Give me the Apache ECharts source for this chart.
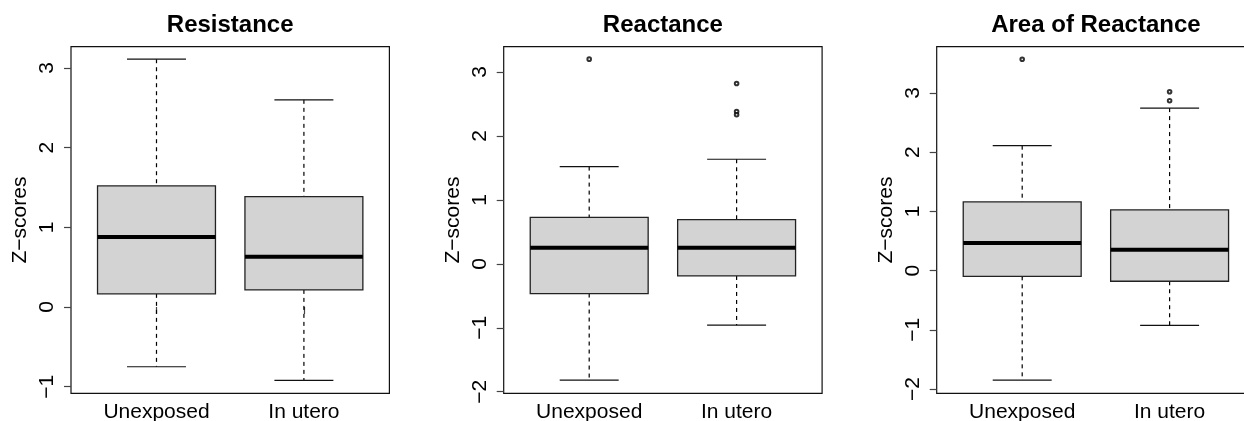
<!DOCTYPE html>
<html>
<head>
<meta charset="utf-8">
<script src="https://cdn.jsdelivr.net/npm/echarts@6/dist/echarts.min.js"></script>
<style>
html,body{margin:0;padding:0;background:#fff;}
#chart{width:1244px;height:421px;}
</style>
</head>
<body>
<div id="chart"></div>
<script>
// ---- data ----
const categories = ['Unexposed', 'In utero'];
const panelTitles = ['Resistance', 'Reactance', 'Area of Reactance'];
const yAxisTitle = 'Z\u2212scores';
// each row: [lower whisker, Q1, median, Q3, upper whisker]
const resistanceStats = [[-0.75, 0.165, 0.88, 1.52, 3.11], [-0.92, 0.215, 0.63, 1.385, 2.60]];
const resistanceOutliers = [];
const reactanceStats = [[-1.82, -0.465, 0.25, 0.725, 1.52], [-0.96, -0.19, 0.25, 0.69, 1.635]];
const reactanceOutliers = [[1, 3.20], [2, 2.82], [2, 2.38], [2, 2.33]];
const areaStats = [[-1.85, -0.097, 0.466, 1.16, 2.11], [-0.925, -0.18, 0.353, 1.024, 2.745]];
const areaOutliers = [[1, 3.57], [2, 3.02], [2, 2.87]];
const resistanceTicks = [-1, 0, 1, 2, 3];
const reactanceTicks = [-2, -1, 0, 1, 2, 3];
const areaTicks = [-2, -1, 0, 1, 2, 3];
const resistanceRange = [-1.083, 3.267];
const reactanceRange = [-2.025, 3.395];
const areaRange = [-2.073, 3.782];
const xPositions = [1, 2];

// ---- chart ----
const panels = [
  {stats: resistanceStats, outliers: resistanceOutliers, ticks: resistanceTicks, range: resistanceRange},
  {stats: reactanceStats, outliers: reactanceOutliers, ticks: reactanceTicks, range: reactanceRange},
  {stats: areaStats, outliers: areaOutliers, ticks: areaTicks, range: areaRange}
];
const gridLefts = [71, 503.7, 936.7];
const gridTop = 46.7, gridW = 318.4, gridH = 346.6;
const FONT = '"Liberation Sans", Arial, Helvetica, sans-serif';
const BOXW = 0.4, CAPW = 0.2;

function fmt(v) { return String(v).replace('-', '\u2212'); }

function renderBox(params, api) {
  const x = api.value(0);
  const lo = api.value(1), q1 = api.value(2), md = api.value(3), q3 = api.value(4), hi = api.value(5);
  const c = (a, b) => api.coord([a, b]);
  const pHi = c(x, hi), pQ3 = c(x, q3), pQ1 = c(x, q1), pLo = c(x, lo);
  const capL = c(x - CAPW, hi), capR = c(x + CAPW, hi);
  const capL2 = c(x - CAPW, lo), capR2 = c(x + CAPW, lo);
  const bTL = c(x - BOXW, q3), bBR = c(x + BOXW, q1);
  const mL = c(x - BOXW, md), mR = c(x + BOXW, md);
  const dashStyle = {stroke: '#000', lineWidth: 1.2, lineDash: [4, 4]};
  const solid = {stroke: '#111', lineWidth: 1.2};
  return {
    type: 'group',
    children: [
      {type: 'line', shape: {x1: pHi[0], y1: pHi[1], x2: pQ3[0], y2: pQ3[1]}, style: dashStyle},
      {type: 'line', shape: {x1: pQ1[0], y1: pQ1[1], x2: pLo[0], y2: pLo[1]}, style: dashStyle},
      {type: 'line', shape: {x1: capL[0], y1: capL[1], x2: capR[0], y2: capR[1]}, style: solid},
      {type: 'line', shape: {x1: capL2[0], y1: capL2[1], x2: capR2[0], y2: capR2[1]}, style: solid},
      {type: 'rect', shape: {x: bTL[0], y: bTL[1], width: bBR[0] - bTL[0], height: bBR[1] - bTL[1]},
       style: {fill: '#d3d3d3', stroke: '#222', lineWidth: 1.3}},
      {type: 'line', shape: {x1: mL[0], y1: mL[1], x2: mR[0], y2: mR[1]}, style: {stroke: '#000', lineWidth: 4}}
    ]
  };
}

const option = {
  animation: false,
  backgroundColor: '#fff',
  title: panels.map((p, i) => ({
    text: panelTitles[i],
    left: gridLefts[i] + gridW / 2,
    top: 13,
    textAlign: 'center',
    padding: 0,
    textStyle: {fontFamily: FONT, fontSize: 24, fontWeight: 'bold', color: '#000'}
  })),
  grid: panels.map((p, i) => ({
    left: gridLefts[i], top: gridTop, width: gridW, height: gridH,
    outerBoundsMode: 'none', containLabel: false,
    show: true, borderColor: '#111', borderWidth: 1.2, backgroundColor: 'transparent'
  })),
  xAxis: panels.map((p, i) => ({
    type: 'value', gridIndex: i, min: 0.42, max: 2.58,
    axisLine: {show: false},
    splitLine: {show: false},
    axisTick: {show: true, inside: false, length: 7, customValues: xPositions, lineStyle: {color: '#444', width: 1.2}},
    axisLabel: {show: true, margin: 8, customValues: xPositions, fontFamily: FONT, fontSize: 21, color: '#000',
      hideOverlap: false, formatter: v => categories[Math.round(v) - 1]}
  })),
  yAxis: panels.map((p, i) => ({
    type: 'value', gridIndex: i, min: p.range[0], max: p.range[1],
    name: yAxisTitle, nameLocation: 'middle', nameGap: 40,
    nameTextStyle: {fontFamily: FONT, fontSize: 21, color: '#000'},
    axisLine: {show: false},
    splitLine: {show: false},
    axisTick: {show: true, inside: false, length: 7, customValues: p.ticks, lineStyle: {color: '#444', width: 1.2}},
    axisLabel: {show: true, rotate: 90, margin: 13, customValues: p.ticks, fontFamily: FONT, fontSize: 21, color: '#000',
      hideOverlap: false, formatter: v => fmt(v)}
  })),
  series: []
};

panels.forEach((p, i) => {
  option.series.push({
    type: 'custom', xAxisIndex: i, yAxisIndex: i,
    renderItem: renderBox,
    encode: {x: 0, y: [1, 2, 3, 4, 5]},
    data: p.stats.map((s, j) => [xPositions[j]].concat(s)),
    clip: false
  });
  option.series.push({
    type: 'scatter', xAxisIndex: i, yAxisIndex: i,
    symbol: 'emptyCircle', symbolSize: 3.6,
    itemStyle: {color: '#000', borderColor: '#000', borderWidth: 0.9},
    data: p.outliers
  });
});

const chart = echarts.init(document.getElementById('chart'), null, {renderer: 'canvas'});
chart.setOption(option);
</script>
</body>
</html>
